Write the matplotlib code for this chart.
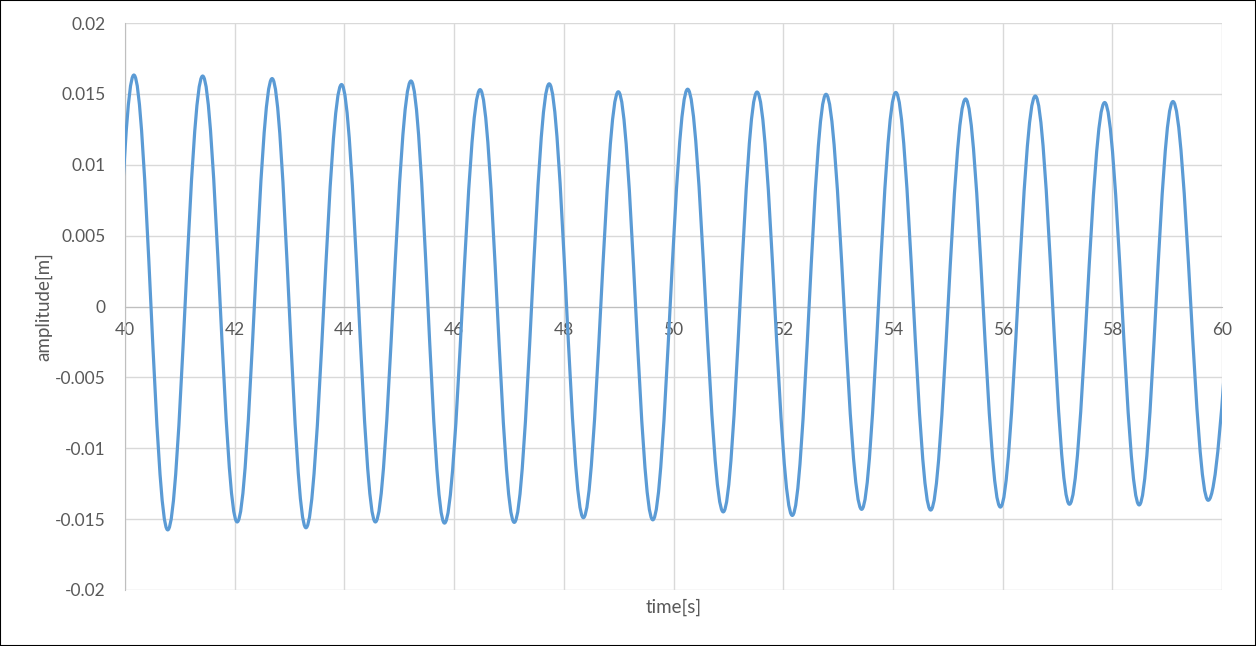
from matplotlib import pyplot as plt
from matplotlib.path import Path
from matplotlib.patches import PathPatch, Rectangle

# extrema (time [s], amplitude [m])
# first trough and last peak lie just outside the plotted range
peak_t = [40.162, 41.416, 42.682, 43.948, 45.214, 46.474, 47.734, 48.994,
          50.258, 51.523, 52.781, 54.053, 55.325, 56.596, 57.861, 59.106, 60.52]
peak_v = [0.01633, 0.01626, 0.01608, 0.01566, 0.01591, 0.01530, 0.01571, 0.01515,
          0.01533, 0.01513, 0.01497, 0.01510, 0.01464, 0.01485, 0.01439, 0.01446, 0.0145]
trough_t = [39.55, 40.779, 42.045, 43.299, 44.565, 45.825, 47.097, 48.357, 49.623,
            50.907, 52.166, 53.430, 54.689, 55.960, 57.219, 58.490, 59.748]
trough_v = [-0.0158, -0.01576, -0.01520, -0.01561, -0.01520, -0.01528, -0.01523, -0.01490, -0.01505,
            -0.01449, -0.01474, -0.01431, -0.01436, -0.01415, -0.01395, -0.01400, -0.01367]

x_ticks = [40, 42, 44, 46, 48, 50, 52, 54, 56, 58, 60]
y_ticks = [-0.02, -0.015, -0.01, -0.005, 0, 0.005, 0.01, 0.015, 0.02]
y_labels = ["-0.02", "-0.015", "-0.01", "-0.005", "0", "0.005", "0.01", "0.015", "0.02"]

blue = "#5b9bd5"
grid = "#d9d9d9"
txt = "#595959"
plt.rcParams['font.family'] = ['Lato', 'DejaVu Sans']

fig = plt.figure(figsize=(12.56, 6.46), dpi=100)
ax = fig.add_axes([125/1256, 1 - 590/646, 1097/1256, 567/646])

# smoothed line through the extrema (horizontal tangents at each extremum)
pts = sorted(zip(peak_t + trough_t, peak_v + trough_v))
h = 0.3634
verts = [pts[0]]
codes = [Path.MOVETO]
for (t0, v0), (t1, v1) in zip(pts[:-1], pts[1:]):
    dt = t1 - t0
    verts += [(t0 + h*dt, v0), (t1 - h*dt, v1), (t1, v1)]
    codes += [Path.CURVE4] * 3
ax.add_patch(PathPatch(Path(verts, codes), fill=False, edgecolor=blue, lw=2.3,
                       capstyle='round', joinstyle='round', zorder=3))

ax.set_xlim(40, 60)
ax.set_ylim(-0.02, 0.02)
ax.set_xticks(x_ticks)
ax.set_yticks(y_ticks)
ax.set_yticklabels(y_labels)
ax.grid(True, color=grid, lw=1)
ax.set_axisbelow(True)

for s in ['top', 'right']:
    ax.spines[s].set_visible(False)
ax.spines['left'].set_color("#bfbfbf")
ax.spines['bottom'].set_color("#bfbfbf")
ax.spines['bottom'].set_position(('data', 0))
ax.tick_params(axis='both', length=0, labelsize=12.5, labelcolor=txt)
ax.tick_params(axis='x', pad=11)
ax.tick_params(axis='y', pad=14)

ax.set_xlabel("time[s]", fontsize=13.5, color=txt)
ax.xaxis.set_label_coords(0.5, -0.016)
ax.set_ylabel("amplitude[m]", fontsize=13.5, color=txt)
ax.yaxis.set_label_coords(-0.0665, 0.5)

fig.patches.append(Rectangle((0, 0), 1, 1, transform=fig.transFigure, fill=False,
                             edgecolor="black", lw=1.5))

fig.savefig("out.png", dpi=100)
